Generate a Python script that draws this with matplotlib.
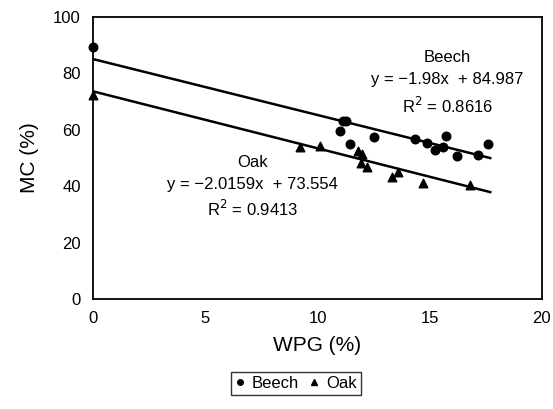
import matplotlib
matplotlib.use("Agg")
import matplotlib.pyplot as plt
import numpy as np
from matplotlib.lines import Line2D

plt.rcParams["font.family"] = ["Liberation Sans", "DejaVu Sans"]

# Beech: WPG (%) vs MC (%)
beech_wpg = [0.0, 11.15, 11.25, 11.0, 11.45, 12.5, 14.35, 14.9, 15.25, 15.6, 15.75, 16.2, 17.15, 17.6]
beech_mc = [89.4, 63.0, 63.2, 59.6, 54.8, 57.3, 56.6, 55.4, 52.8, 54.0, 57.7, 50.7, 50.9, 54.9]

# Oak
oak_wpg = [0.0, 9.2, 10.1, 11.8, 12.0, 11.95, 12.2, 13.3, 13.6, 14.7, 16.8]
oak_mc = [72.3, 54.0, 54.3, 52.5, 51.4, 48.1, 46.9, 43.3, 45.1, 41.0, 40.4]

# ajustes lineales publicados
beech_fit = (-1.98, 84.987)
oak_fit = (-2.0159, 73.554)
fit_xmax = 17.7

fig = plt.figure(figsize=(5.53, 4.09), dpi=100)
ax = fig.add_axes([0.1687, 0.269, 0.811, 0.690])

xs = np.array([0.0, fit_xmax])
ax.plot(xs, beech_fit[0] * xs + beech_fit[1], color="black", lw=1.8)
ax.plot(xs, oak_fit[0] * xs + oak_fit[1], color="black", lw=1.8)

ax.scatter(beech_wpg, beech_mc, marker="o", s=38, color="black", zorder=3, clip_on=False)
ax.scatter(oak_wpg, oak_mc, marker="^", s=38, color="black", zorder=3, clip_on=False)

ax.set_xlim(0, 20)
ax.set_ylim(0, 100)
ax.set_xticks([0, 5, 10, 15, 20])
ax.set_yticks([0, 20, 40, 60, 80, 100])
ax.tick_params(length=0, labelsize=12, pad=9)
for s in ax.spines.values():
    s.set_linewidth(1.3)

ax.set_xlabel("WPG (%)", fontsize=15, labelpad=7)
ax.set_ylabel("MC (%)", fontsize=15, labelpad=10)

tk = dict(ha="center", va="center", fontsize=12)
ax.text(15.8, 85.4, "Beech", **tk)
ax.text(15.8, 77.6, "y = \u22121.98x  + 84.987", **tk)
ax.text(15.8, 68.4, "R$^2$ = 0.8616", **tk)
ax.text(7.1, 48.5, "Oak", **tk)
ax.text(7.1, 40.7, "y = \u22122.0159x  + 73.554", **tk)
ax.text(7.1, 31.9, "R$^2$ = 0.9413", **tk)

handles = [
    Line2D([], [], marker="o", color="black", ls="none", markersize=4),
    Line2D([], [], marker="^", color="black", ls="none", markersize=4),
]
leg = fig.legend(handles, ["Beech", "Oak"], loc="center", bbox_to_anchor=(0.535, 0.063),
                 ncol=2, frameon=True, fancybox=False, fontsize=12,
                 handlelength=0.6, handletextpad=0.4, columnspacing=0.6,
                 borderpad=0.25, edgecolor="black")
leg.get_frame().set_linewidth(1.0)

fig.savefig("out.png", dpi=100)
